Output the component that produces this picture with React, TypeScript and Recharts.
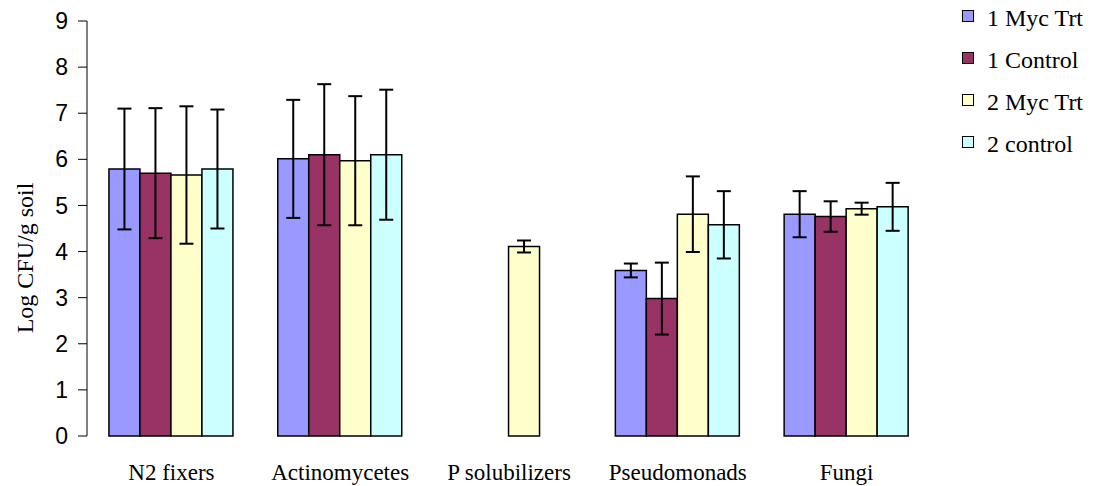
import React from 'react';
import { BarChart, Bar, XAxis, YAxis, ErrorBar } from 'recharts';

const categories = ['N2 fixers', 'Actinomycetes', 'P solubilizers', 'Pseudomonads', 'Fungi'];
const seriesNames = ['1 Myc Trt', '1 Control', '2 Myc Trt', '2 control'];
const seriesColors = ['#9999FF', '#993366', '#FFFFCC', '#CCFFFF'];

const myc1 = [5.79, 6.01, 0, 3.59, 4.81];
const myc1Err = [1.31, 1.28, 0, 0.15, 0.5];
const ctrl1 = [5.7, 6.1, 0, 2.98, 4.76];
const ctrl1Err = [1.41, 1.53, 0, 0.78, 0.33];
const myc2 = [5.66, 5.97, 4.11, 4.81, 4.93];
const myc2Err = [1.49, 1.4, 0.13, 0.82, 0.13];
const ctrl2 = [5.79, 6.1, 0, 4.58, 4.97];
const ctrl2Err = [1.29, 1.41, 0, 0.73, 0.52];

const yTicks = [0, 1, 2, 3, 4, 5, 6, 7, 8, 9];
const edgeTicks = [0, 1, 2, 3, 4, 5];

const values = [myc1, ctrl1, myc2, ctrl2];
const errors = [myc1Err, ctrl1Err, myc2Err, ctrl2Err];

const data = categories.map((name, i) => {
  const row: Record<string, any> = { name };
  values.forEach((arr, s) => {
    row['v' + s] = arr[i];
    row['e' + s] = errors[s][i];
  });
  return row;
});

const serif = '"Liberation Serif", "Times New Roman", serif';
const sans = '"Liberation Sans", Arial, sans-serif';

export default function App() {
  return (
    <div style={{ position: 'absolute', left: 0, top: 0, width: 1099, height: 486, background: '#fff' }}>
      <BarChart
        width={1099}
        height={486}
        data={data}
        margin={{ top: 21, right: 168, bottom: 0, left: 0 }}
        barCategoryGap="13%"
        barGap={0}
      >
        <XAxis
          xAxisId="edges"
          type="number"
          domain={[0, 5]}
          ticks={edgeTicks}
          allowDataOverflow
          height={0}
          tickSize={8}
          tickFormatter={() => ''}
          axisLine={{ stroke: '#000' }}
          tickLine={{ stroke: '#000' }}
        />
        <XAxis
          xAxisId="cat"
          dataKey="name"
          height={50}
          axisLine={false}
          tickLine={false}
          tickSize={8}
          tickMargin={20}
          interval={0}
          tick={{ fill: '#000', fontSize: 23, fontFamily: serif }}
        />
        <YAxis
          domain={[0, 9]}
          ticks={yTicks}
          width={87}
          interval={0}
          tickSize={9}
          tickMargin={10}
          axisLine={{ stroke: '#000' }}
          tickLine={{ stroke: '#000' }}
          tick={{ fill: '#000', fontSize: 23, fontFamily: sans }}
        />
        {seriesNames.map((s, i) => (
          <Bar
            key={s}
            xAxisId="cat"
            dataKey={'v' + i}
            name={s}
            fill={seriesColors[i]}
            stroke="#000"
            strokeWidth={1.5}
            isAnimationActive={false}
          >
            <ErrorBar dataKey={'e' + i} width={7} stroke="#000" strokeWidth={2} />
          </Bar>
        ))}
      </BarChart>
      <div
        style={{
          position: 'absolute',
          left: 25,
          top: 258,
          transform: 'translate(-50%, -50%) rotate(-90deg)',
          fontFamily: serif,
          fontSize: 24,
          whiteSpace: 'nowrap',
          color: '#000',
          lineHeight: 1,
        }}
      >
        Log CFU/g soil
      </div>
      {seriesNames.map((s, i) => (
        <React.Fragment key={s}>
          <div
            style={{
              position: 'absolute',
              left: 962,
              top: 10 + 42 * i,
              width: 12,
              height: 12,
              boxSizing: 'border-box',
              border: '1.5px solid #000',
              background: seriesColors[i],
            }}
          />
          <div
            style={{
              position: 'absolute',
              left: 987,
              top: 4.6 + 42 * i,
              fontFamily: serif,
              fontSize: 24,
              lineHeight: 'normal',
              whiteSpace: 'nowrap',
              color: '#000',
            }}
          >
            {s}
          </div>
        </React.Fragment>
      ))}
    </div>
  );
}
